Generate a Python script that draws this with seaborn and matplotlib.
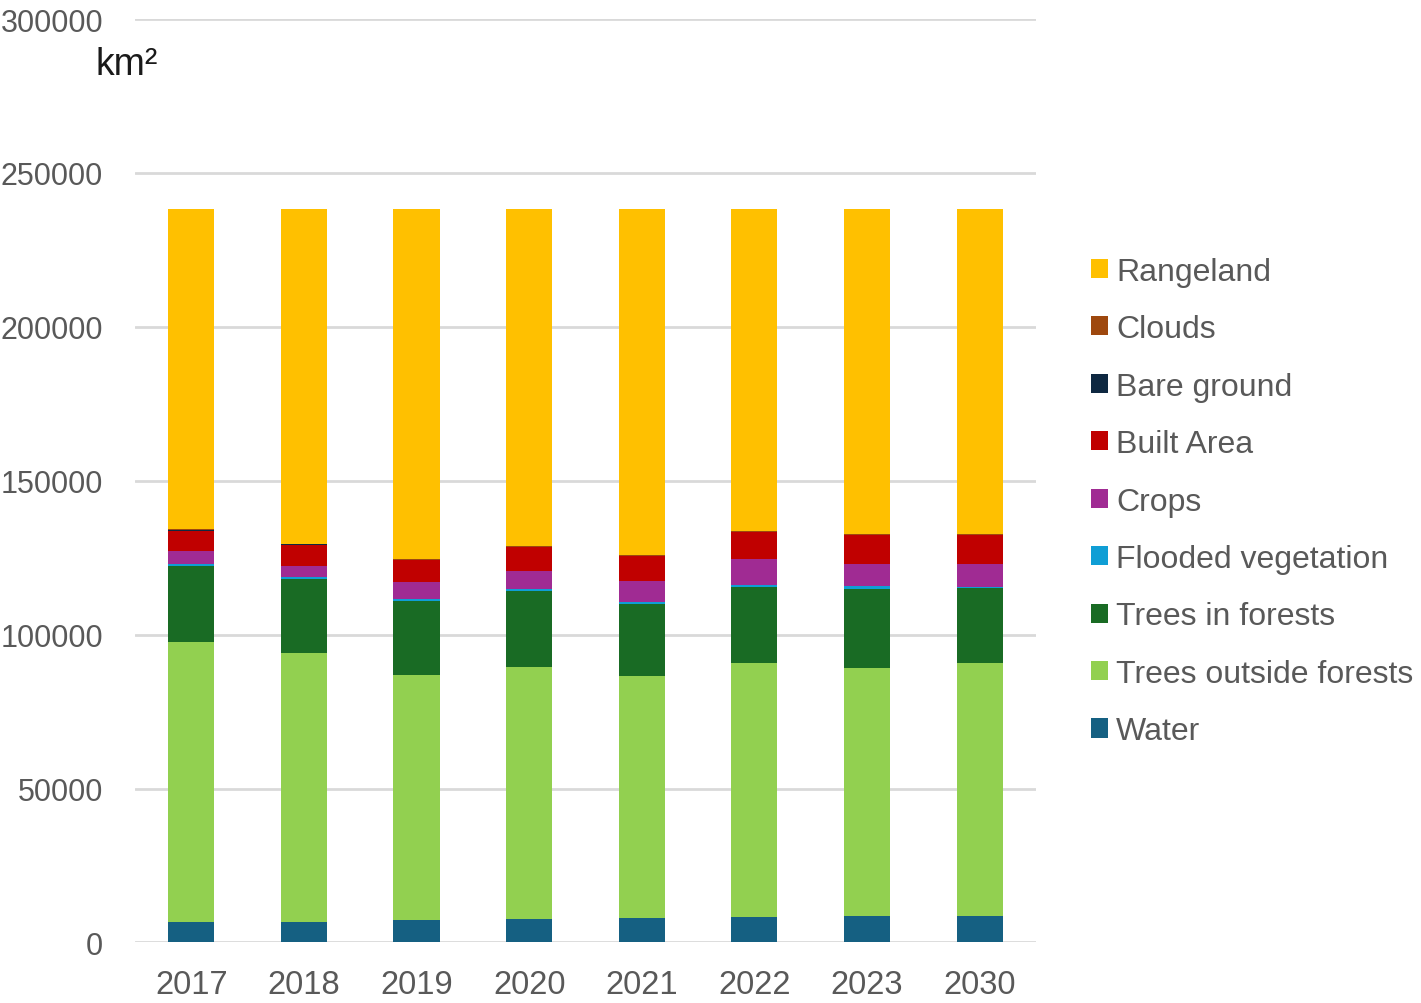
import numpy as np
import pandas as pd
import matplotlib
matplotlib.use("Agg")
import matplotlib.pyplot as plt
from matplotlib.patches import Patch
import seaborn as sns

# данные (km²), снизу вверх
years = ['2017', '2018', '2019', '2020', '2021', '2022', '2023', '2030']
water = [6600, 6800, 7400, 7700, 8100, 8300, 8600, 8700]
treesOutside = [91000, 87400, 79600, 81900, 78400, 82500, 80600, 82100]
treesForests = [24800, 23900, 23900, 24500, 23600, 24600, 25600, 24400]
flooded = [500, 500, 650, 600, 500, 650, 850, 350]
crops = [4400, 3800, 5400, 5950, 6800, 8550, 7150, 7250]
built = [6500, 6800, 7300, 7800, 8100, 8800, 9500, 9500]
bareGround = [100, 100, 100, 100, 100, 100, 100, 100]
clouds = [300, 300, 300, 300, 300, 300, 300, 300]
rangeland = [104200, 108800, 113750, 109550, 112500, 104600, 105700, 105700]

layers = ['Water', 'Trees outside forests', 'Trees in forests', 'Flooded vegetation',
          'Crops', 'Built Area', 'Bare ground', 'Clouds', 'Rangeland']
colors = {'Water': '#156082', 'Trees outside forests': '#92D050', 'Trees in forests': '#196B24',
          'Flooded vegetation': '#0F9ED5', 'Crops': '#A02B93', 'Built Area': '#C00000',
          'Bare ground': '#0E2841', 'Clouds': '#9E480E', 'Rangeland': '#FFC000'}

dataSet = pd.DataFrame({'Year': years, 'Water': water, 'Trees outside forests': treesOutside,
                        'Trees in forests': treesForests, 'Flooded vegetation': flooded,
                        'Crops': crops, 'Built Area': built, 'Bare ground': bareGround,
                        'Clouds': clouds, 'Rangeland': rangeland})

# накопленные суммы для стека
cum = dataSet[layers].cumsum(axis=1)
cum['Year'] = dataSet['Year']

sns.set_style("white")
plt.rcParams['font.family'] = ['Liberation Sans', 'DejaVu Sans']

fig = plt.figure(figsize=(14.21, 10.04), dpi=100)
ax = fig.add_axes([0.095, 0.0603, 0.634, 0.9197])

# рисуем от верхнего слоя к нижнему, каждый перекрывает предыдущий
for layer in reversed(layers):
    sns.barplot(data=cum, x='Year', y=layer, color=colors[layer], width=0.41,
                saturation=1, linewidth=0, edgecolor='none', ax=ax, zorder=3)

ax.set_ylim(0, 300000)
ax.set_xlim(-0.5, len(years) - 0.5)
ax.set_yticks(np.arange(0, 300001, 50000))
ax.yaxis.grid(True, color='#D9D9D9', linewidth=2, zorder=0)
ax.set_axisbelow(True)
for s in ax.spines.values():
    s.set_visible(False)
ax.set_xlabel('')
ax.set_ylabel('')
ax.tick_params(axis='both', length=0, colors='#595959')
ax.tick_params(axis='y', labelsize=22, pad=23)
ax.tick_params(axis='x', labelsize=23.5, pad=19)

fig.text(0.067, 0.925, 'km²', fontsize=27, color='#1a1a1a', ha='left', va='baseline')

handles = [Patch(facecolor=colors[l], edgecolor='none') for l in reversed(layers)]
fig.legend(handles, list(reversed(layers)), loc='center left', bbox_to_anchor=(0.7675, 0.4995),
           frameon=False, fontsize=23, labelcolor='#595959', handlelength=0.55,
           handleheight=0.55, handletextpad=0.25, labelspacing=0.86, borderaxespad=0,
           borderpad=0)

fig.savefig('out.png', dpi=100)
